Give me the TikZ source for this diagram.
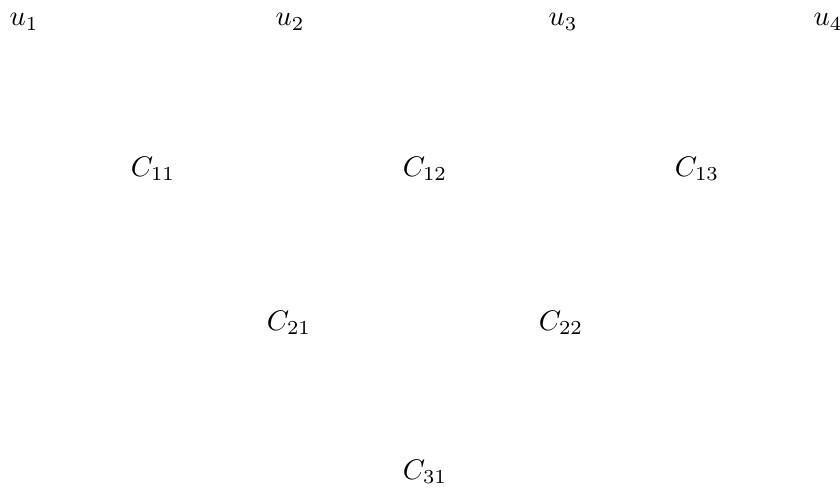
\documentclass[tikz,border=0pt]{standalone}
\usepackage{tikz}
\usetikzlibrary{positioning}

\begin{document}
\begin{tikzpicture}[x=0.353pt, y=-0.353pt, every node/.style={inner sep=0pt}]
    \useasboundingbox (0,0) rectangle (840,490);
    % inputs
    \node (u1) at (24,22)  {$u_1$};
    \node (u2) at (290,22) {$u_2$};
    \node (u3) at (563,22) {$u_3$};
    \node (u4) at (828,22) {$u_4$};
    % first level
    \node (c11) at (153,169) {$C_{11}$};
    \node (c12) at (425,169) {$C_{12}$};
    \node (c13) at (697,169) {$C_{13}$};
    % second level
    \node (c21) at (289,323) {$C_{21}$};
    \node (c22) at (561,323) {$C_{22}$};
    % top
    \node (c31) at (425,472) {$C_{31}$};
  \end{tikzpicture}
\end{document}
